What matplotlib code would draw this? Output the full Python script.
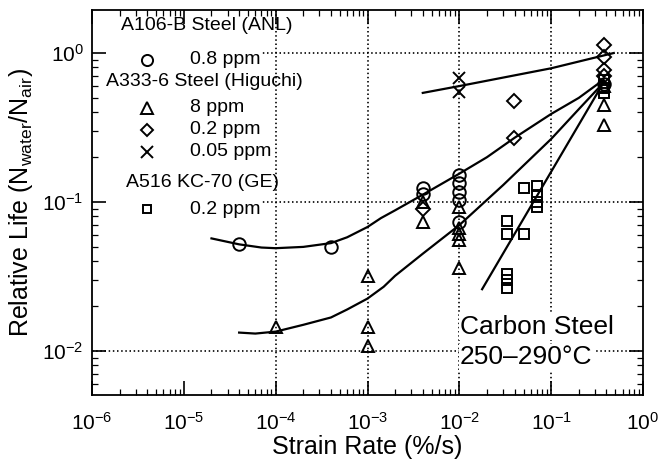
import matplotlib
matplotlib.use("Agg")
import matplotlib.pyplot as plt
from matplotlib.ticker import LogLocator, NullFormatter, FixedLocator

plt.rcParams['font.family'] = ['Liberation Sans', 'DejaVu Sans']
plt.rcParams['mathtext.default'] = 'regular'

# ---------------- data ----------------
# A106-B Steel (ANL), 0.8 ppm  (circles)
anl_x = [4e-5, 4e-4, 4e-3, 4e-3, 1e-2, 1e-2, 1e-2, 1e-2, 1e-2, 0.38]
anl_y = [0.052, 0.050, 0.125, 0.113, 0.152, 0.134, 0.117, 0.103, 0.073, 0.62]

# A333-6 Steel (Higuchi), 8 ppm (triangles)
hig8_x = [1e-4, 1e-3, 1e-3, 1e-3, 4e-3, 4e-3, 1e-2, 1e-2, 1e-2, 1e-2, 1e-2, 0.38, 0.38, 0.38]
hig8_y = [0.0145, 0.032, 0.0145, 0.0108, 0.10, 0.073, 0.093, 0.067, 0.061, 0.056, 0.036, 0.60, 0.45, 0.33]

# A333-6 Steel (Higuchi), 0.2 ppm (diamonds)
hig02_x = [4e-3, 0.039, 0.039, 0.38, 0.38, 0.38, 0.38]
hig02_y = [0.09, 0.48, 0.27, 1.13, 0.94, 0.77, 0.70]

# A333-6 Steel (Higuchi), 0.05 ppm (crosses)
hig005_x = [1e-2, 1e-2]
hig005_y = [0.68, 0.55]

# A516 KC-70 (GE), 0.2 ppm (squares)
ge_x = [0.050, 0.070, 0.070, 0.070, 0.070, 0.033, 0.033, 0.050, 0.033, 0.033, 0.033, 0.38, 0.38, 0.38]
ge_y = [0.124, 0.128, 0.111, 0.100, 0.093, 0.0745, 0.061, 0.061, 0.033, 0.030, 0.0265, 0.66, 0.58, 0.54]

# fitted curves
fit_anl_x = [2e-5, 4e-5, 7e-5, 1e-4, 2e-4, 4e-4, 6e-4, 1e-3, 1.4e-3, 2e-3, 4e-3, 1e-2, 2e-2, 4e-2, 1e-1, 0.2, 0.37]
fit_anl_y = [0.057, 0.052, 0.0495, 0.049, 0.050, 0.053, 0.058, 0.068, 0.078, 0.088, 0.112, 0.155, 0.20, 0.27, 0.39, 0.50, 0.66]

fit_hig8_x = [4e-5, 6e-5, 1e-4, 2e-4, 4e-4, 6e-4, 1e-3, 1.5e-3, 2e-3, 4e-3, 1e-2, 3e-2, 1e-1, 0.2, 0.37]
fit_hig8_y = [0.0133, 0.0131, 0.0135, 0.0150, 0.0168, 0.019, 0.0225, 0.027, 0.032, 0.045, 0.070, 0.13, 0.265, 0.42, 0.63]

fit_hig005_x = [4e-3, 1e-2, 1e-1, 0.48]
fit_hig005_y = [0.54, 0.60, 0.79, 1.0]

fit_ge_x = [0.0177, 0.37]
fit_ge_y = [0.026, 0.63]

xticks = [1e-6, 1e-5, 1e-4, 1e-3, 1e-2, 1e-1, 1e0]
xticklabels = [r'$10^{-6}$', r'$10^{-5}$', r'$10^{-4}$', r'$10^{-3}$', r'$10^{-2}$', r'$10^{-1}$', r'$10^{0}$']
yticks = [1e-2, 1e-1, 1e0]
yticklabels = [r'$10^{-2}$', r'$10^{-1}$', r'$10^{0}$']
xgrid = [1e-4, 1e-3, 1e-2, 1e-1]
ygrid = [1e-2, 1e-1, 1e0]

# ---------------- figure ----------------
W, H = 665, 471
fig = plt.figure(figsize=(W / 100, H / 100), dpi=100)
L, R, T, B = 92, 643, 10, 395
ax = fig.add_axes([L / W, 1 - B / H, (R - L) / W, (B - T) / H])
ax.set_xscale('log')
ax.set_yscale('log')
ax.set_xlim(1e-6, 1.0)
ax.set_ylim(0.00507, 1.944)

gs = dict(color='black', lw=1.2, linestyle=(0, (0.9, 1.6)))
for g in ygrid:
    ax.axhline(g, zorder=0.5, **gs)
# white legend backdrop hides horizontal grid lines
ax.add_patch(plt.Rectangle((0, (B - 222) / (B - T)), (262 - L) / (R - L), 1,
                           transform=ax.transAxes, facecolor='white',
                           edgecolor='none', zorder=0.8))
for g in xgrid:
    ax.axvline(g, zorder=0.9, **gs)

lk = dict(color='black', lw=1.6, zorder=2)
ax.plot(fit_anl_x, fit_anl_y, **lk)
ax.plot(fit_hig8_x, fit_hig8_y, **lk)
ax.plot(fit_hig005_x, fit_hig005_y, **lk)
ax.plot(fit_ge_x, fit_ge_y, **lk)

mk = dict(linestyle='none', markerfacecolor='none', markeredgecolor='black',
          markeredgewidth=1.4, zorder=3)
ax.plot(anl_x, anl_y, marker='o', markersize=9, **mk)
ax.plot(hig8_x, hig8_y, marker='^', markersize=9, **mk)
ax.plot(hig02_x, hig02_y, marker='D', markersize=7, **mk)
ax.plot(hig005_x, hig005_y, marker='x', markersize=9, **mk)
ax.plot(ge_x, ge_y, marker='s', markersize=6.5, **mk)

# ticks
ax.xaxis.set_major_locator(FixedLocator(xticks))
ax.yaxis.set_major_locator(FixedLocator(yticks))
ax.xaxis.set_minor_locator(LogLocator(base=10, subs=range(2, 10), numticks=20))
ax.yaxis.set_minor_locator(LogLocator(base=10, subs=range(2, 10), numticks=20))
ax.xaxis.set_minor_formatter(NullFormatter())
ax.yaxis.set_minor_formatter(NullFormatter())
ax.set_xticklabels(xticklabels, fontsize=15)
ax.set_yticklabels(yticklabels, fontsize=15)
ax.tick_params(which='both', direction='in', top=True, right=True, color='black')
ax.tick_params(which='major', length=10, width=1.2)
ax.tick_params(which='minor', length=4.5, width=0.9)
ax.tick_params(axis='x', which='major', pad=12)
ax.tick_params(axis='y', which='major', pad=6)
for s in ax.spines.values():
    s.set_linewidth(1.3)

ax.set_xlabel('Strain Rate (%/s)', fontsize=18, labelpad=1)
ax.set_ylabel(r'Relative Life (N$_{\mathregular{water}}$/N$_{\mathregular{air}}$)', fontsize=18, labelpad=5)

# manual legend
def px(x, y):
    return ((x - L) / (R - L), (B - y) / (B - T))

tk = dict(transform=ax.transAxes, fontsize=14, va='center', zorder=5)
ax.text(*px(207, 25), 'A106-B Steel (ANL)', ha='center', **tk)
ax.text(*px(106, 82), 'A333-6 Steel (Higuchi)', ha='left', **tk)
ax.text(*px(203, 182), 'A516 KC-70 (GE)', ha='center', **tk)
entries = [(60, 'o', 8, '0.8 ppm'), (108, '^', 8, '8 ppm'), (130, 'D', 6, '0.2 ppm'),
           (152, 'x', 8, '0.05 ppm'), (209, 's', 5.5, '0.2 ppm')]
for yy, m, ms, lab in entries:
    ax.plot([px(147, yy)[0]], [px(147, yy)[1]], marker=m, markersize=ms,
            transform=ax.transAxes, clip_on=False, **mk)
    ax.text(*px(190, yy), lab, ha='left', **tk)

ax.text(*px(460, 327), 'Carbon Steel', transform=ax.transAxes, fontsize=19,
        ha='left', va='center', zorder=5,
        bbox=dict(facecolor='white', edgecolor='none', pad=1))
ax.text(*px(460, 357), '250\u2013290\u00b0C', transform=ax.transAxes, fontsize=19,
        ha='left', va='center', zorder=5,
        bbox=dict(facecolor='white', edgecolor='none', pad=1))

fig.savefig('out.png', dpi=100)
